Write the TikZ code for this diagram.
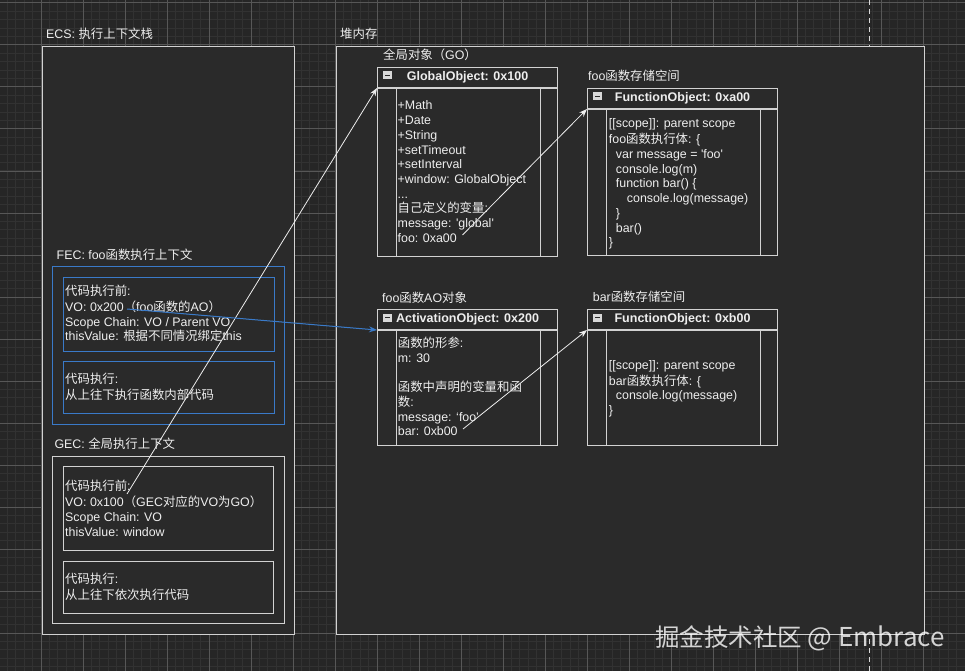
\documentclass[tikz,border=0pt]{standalone}
\usepackage{fontspec}
\setmainfont{Liberation Sans}
\newfontfamily\cjk{Noto Sans CJK SC}
\usetikzlibrary{arrows.meta}
\definecolor{bgdark}{HTML}{262626}
\definecolor{gridminor}{HTML}{323232}
\definecolor{gridmajor}{HTML}{575757}
\definecolor{boxfill}{HTML}{2A2A2A}
\definecolor{boxline}{HTML}{D2D2D2}
\definecolor{txt}{HTML}{EEEEEE}
\definecolor{fecblue}{HTML}{3A7AC8}
\tikzset{
  frame/.style={draw=boxline, fill=boxfill, line width=1.1pt, anchor=north west, inner sep=0pt},
  bluebox/.style={frame, draw=fecblue},
  rule/.style={draw=boxline, line width=1.1pt},
  lbl/.style={anchor=base west, inner sep=0pt, text=txt},
  body/.style={anchor=north west, inner sep=0pt, align=left, text=txt},
  objtitle/.style={font=\fontsize{12.5}{14.7}\selectfont\bfseries, text=txt, inner sep=0pt},
  minus/.style={fill=boxline!85, minimum width=9pt, minimum height=8pt, inner sep=0pt,
    path picture={\draw[boxfill, line width=1.2pt] ([xshift=2pt]path picture bounding box.west) -- ([xshift=-2pt]path picture bounding box.east);}},
  ptr/.style={draw=txt, line width=0.8pt, -{Stealth[length=8pt,width=6pt]}},
  blueptr/.style={ptr, draw=fecblue, fill=fecblue, line width=1pt},
  pagebreak/.style={draw=boxline!85, line width=1pt, dash pattern=on 5pt off 4pt}
}

\begin{document}
\begin{tikzpicture}[x=1pt, y=-1pt, font=\fontsize{12.4}{14.7}\selectfont]
\useasboundingbox (0,0) rectangle (965,671);
% background grid
\fill[bgdark] (0,0) rectangle (965,671);
\foreach \i in {0,...,115}
  \draw[gridminor, line width=1pt] ({8.4*\i-1},0) -- ({8.4*\i-1},671);
\foreach \i in {0,...,80}
  \draw[gridminor, line width=1pt] (0,{8.4*\i-5.4}) -- (965,{8.4*\i-5.4});
\foreach \i in {0,...,23}
  \draw[gridmajor, line width=1pt] ({42*\i-1},0) -- ({42*\i-1},671);
\foreach \i in {0,...,16}
  \draw[gridmajor, line width=1pt] (0,{42*\i+3}) -- (965,{42*\i+3});
\draw[pagebreak] (869,0) -- (869,671);

% execution context stack
\node[frame, minimum width=252pt, minimum height=588pt] (ecs) at (42,46) {};
\node[lbl] (ecsLabel) at (46,38.5) {ECS: {\cjk 执行上下文栈}};

\node[bluebox, minimum width=232pt, minimum height=158pt] (fec) at (52,266) {};
\node[lbl] (fecLabel) at (56.5,259.8) {FEC: foo{\cjk 函数执行上下文}};
\node[bluebox, minimum width=211pt, minimum height=74pt] (fecPre) at (63,277) {};
\node[bluebox, minimum width=211pt, minimum height=52pt] (fecRun) at (63,361) {};
\node[body] (fecPreText) at (65,284.7) {\strut{\cjk 代码执行前}:\\
  VO: 0x200{\cjk （}foo{\cjk 函数的}AO{\cjk ）}\\
  Scope Chain: VO / Parent VO\\
  thisValue: {\cjk 根据不同情况绑定}this};
\node[body] (fecRunText) at (65,373.2) {\strut{\cjk 代码执行}:\\
  {\cjk 从上往下执行函数内部代码}};

\node[frame, minimum width=232pt, minimum height=167pt] (gec) at (52,456) {};
\node[lbl] (gecLabel) at (54.3,448.8) {GEC: {\cjk 全局执行上下文}};
\node[frame, minimum width=210pt, minimum height=84pt] (gecPre) at (63,466) {};
\node[frame, minimum width=210pt, minimum height=52pt] (gecRun) at (63,561) {};
\node[body] (gecPreText) at (65,480.2) {\strut{\cjk 代码执行前}:\\
  VO: 0x100{\cjk （}GEC{\cjk 对应的}VO{\cjk 为}GO{\cjk ）}\\
  Scope Chain: VO\\
  thisValue: window};
\node[body] (gecRunText) at (65,572.5) {\strut{\cjk 代码执行}:\\
  {\cjk 从上往下依次执行代码}};

% heap
\node[frame, minimum width=588pt, minimum height=588pt] (heap) at (336,46) {};
\node[lbl] (heapLabel) at (340,38.5) {{\cjk 堆内存}};
\node[lbl] (goLabel) at (383,59.5) {{\cjk 全局对象（}GO{\cjk ）}};
\node[lbl] (fooFnLabel) at (588,80.2) {foo{\cjk 函数存储空间}};
\node[lbl] (aoLabel) at (382,302.2) {foo{\cjk 函数}AO{\cjk 对象}};
\node[lbl] (barFnLabel) at (592.7,301.8) {bar{\cjk 函数存储空间}};

\foreach \n/\x/\y/\w/\h/\t in {go/377/67/180/189/GlobalObject: 0x100,
    fooFn/587/88/190/167/FunctionObject: 0xa00,
    ao/377/309/180/136/ActivationObject: 0x200,
    barFn/587/309/190/136/FunctionObject: 0xb00}{
  \node[frame, minimum width=\w pt, minimum height=\h pt] (\n) at (\x,\y) {};
  \draw[rule] ([yshift=-21pt]\n.north west) -- ([yshift=-21pt]\n.north east)
    ([xshift=19.5pt,yshift=-21pt]\n.north west) -- ([xshift=19.5pt]\n.south west)
    ([xshift=-18pt,yshift=-21pt]\n.north east) -- ([xshift=-18pt]\n.south east);
  \node[objtitle] (\n-title) at ([yshift=-10.5pt]\n.north) {\t};
  \node[minus] (\n-icon) at ([xshift=10.5pt,yshift=-8.5pt]\n.north west) {};
}

\node[body] (goText) at (397.5,99.5) {\strut+Math\\
  +Date\\
  +String\\
  +setTimeout\\
  +setInterval\\
  +window: GlobalObject\\
  ...\\
  {\cjk 自己定义的变量}:\\
  message: \textquotesingle global\textquotesingle\\
  foo: 0xa00};
\node[body] (fooFnText) at (608.7,117.5) {\strut[[scope]]: parent scope\\
  foo{\cjk 函数执行体}: \{\\
  \hspace*{7pt}var message = \textquotesingle foo\textquotesingle\\
  \hspace*{7pt}console.log(m)\\
  \hspace*{7pt}function bar() \{\\
  \hspace*{18pt}console.log(message)\\
  \hspace*{7pt}\}\\
  \hspace*{7pt}bar()\\
  \}};
\node[body] (aoText) at (397.7,336.9) {\strut{\cjk 函数的形参}:\\
  m: 30\\[14.7pt]
  {\cjk 函数中声明的变量和函}\\
  {\cjk 数}:\\
  message: `foo'\\
  bar: 0xb00};
\node[body] (barFnText) at (608.7,358.9) {\strut[[scope]]: parent scope\\
  bar{\cjk 函数执行体}: \{\\
  \hspace*{7pt}console.log(message)\\
  \}};

% references
\coordinate (gecVO) at (127,494);
\coordinate (goRef) at (462.5,235);
\coordinate (fecVO) at (127,309);
\coordinate (aoRef) at (463,429);
\draw[ptr] (gecVO) -- ([yshift=-21pt]go.north west);
\draw[ptr] (goRef) -- ([yshift=-21pt]fooFn.north west);
\draw[blueptr] (fecVO) -- ([yshift=-21pt]ao.north west);
\draw[ptr] (aoRef) -- ([yshift=-21pt]barFn.north west);

\node[anchor=base east, inner sep=0pt, text=white, opacity=0.8, font=\cjk] (mark) at (945,646)
  {{\fontsize{24.5}{29}\selectfont 掘金技术社区}{\fontsize{26}{30}\selectfont\ @ Embrace}};
\end{tikzpicture}
\end{document}
